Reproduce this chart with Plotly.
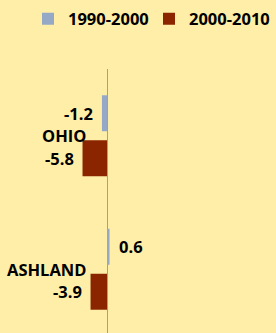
import plotly.graph_objects as go

categories = ["OHIO", "ASHLAND"]
series_names = ["1990-2000", "2000-2010"]
values_1990_2000 = [-1.2, 0.6]
values_2000_2010 = [-5.8, -3.9]
series_values = [values_1990_2000, values_2000_2010]
colors = ["#95A9C6", "#8A2500"]

W, H = 276, 333
FONT = "Open Sans"
FS = 16.5

fig = go.Figure()
for name, vals, col in zip(series_names, series_values, colors):
    fig.add_trace(go.Bar(
        x=vals, y=categories, orientation="h", name=name,
        marker=dict(color=col, line=dict(width=0)),
        hoverinfo="skip",
    ))

annotations = []
# category labels
for c in categories:
    annotations.append(dict(
        x=0, y=c, xref="x", yref="y", text="<b>%s</b>" % c,
        showarrow=False, xanchor="right", yanchor="middle", xshift=-19,
        font=dict(family=FONT, size=FS, color="#000000"),
    ))
# value labels
shifts = [22.5, -22.5]
for vals, ys in zip(series_values, shifts):
    for c, v in zip(categories, vals):
        annotations.append(dict(
            x=v, y=c, xref="x", yref="y", text="<b>%s</b>" % v,
            showarrow=False, xanchor="right" if v < 0 else "left",
            yanchor="middle", xshift=-7 if v < 0 else 7, yshift=ys,
            font=dict(family=FONT, size=FS, color="#000000"),
        ))

top = 69
plot_h = H - top
cat_px = 133.5
fig.update_layout(
    width=W, height=H,
    margin=dict(l=0, r=0, t=top, b=0, pad=0, autoexpand=False),
    paper_bgcolor="#FFEEA8", plot_bgcolor="#FFEEA8",
    barmode="group", bargap=0.326, bargroupgap=0.2,
    showlegend=True,
    legend=dict(
        orientation="h", x=28 / W, xanchor="left",
        y=(H - 19) / plot_h, yanchor="middle",
        font=dict(family=FONT, size=FS, color="#000000", weight="bold"),
        bgcolor="rgba(0,0,0,0)", traceorder="normal",
        entrywidth=76, entrywidthmode="pixels",
        borderwidth=0,
    ),
    xaxis=dict(
        range=[-107 / 4.22, (W - 107) / 4.22],
        showgrid=False, showticklabels=False, ticks="",
        zeroline=True, zerolinecolor="#A0A0A0", zerolinewidth=1,
        showline=False, fixedrange=True,
    ),
    yaxis=dict(
        type="category", categoryorder="array", categoryarray=categories,
        range=[-0.5 + plot_h / cat_px, -0.5],
        showgrid=False, showticklabels=False, ticks="", zeroline=False,
        showline=False, fixedrange=True,
    ),
    annotations=annotations,
)

fig.write_html(
    "out.html",
    config={"displayModeBar": False},
    post_script="document.body.style.margin='0';document.body.style.padding='0';",
)
